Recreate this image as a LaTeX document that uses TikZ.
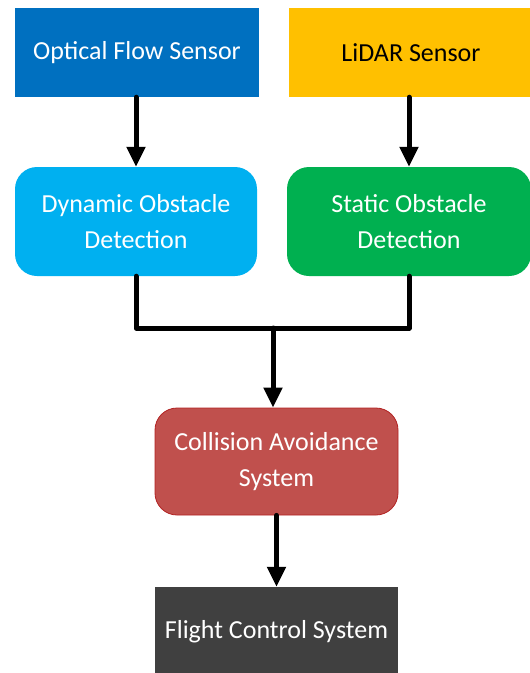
\documentclass[tikz,border=0pt]{standalone}
\usepackage{fontspec}
\setmainfont{Carlito}
\usetikzlibrary{arrows.meta}
\definecolor{optblue}{HTML}{0070C0}
\definecolor{lidaryellow}{HTML}{FFC000}
\definecolor{dynblue}{HTML}{00B0F0}
\definecolor{statgreen}{HTML}{00B050}
\definecolor{collred}{HTML}{C0504D}
\definecolor{collborder}{HTML}{B22222}
\definecolor{flightgrey}{HTML}{404040}
\tikzset{
  box/.style={minimum width=244pt, inner sep=0pt, align=center,
    font=\fontsize{26}{36}\selectfont, text=white},
  roundbox/.style={box, rounded corners=22pt},
  flow/.style={line width=5pt, line cap=round, line join=round,
    -{Triangle[width=18pt,length=20pt]}},
  mergeline/.style={line width=5pt, line cap=round, line join=round}
}
\begin{document}
\begin{tikzpicture}[x=1pt,y=-1pt]
\useasboundingbox (0,0) rectangle (530,673);
% sensors
\node[box, fill=optblue, minimum height=89pt] (opt) at (137,52.5) {Optical Flow Sensor};
\node[box, fill=lidaryellow, minimum height=89pt, text=black] (lidar) at (411,52.5) {LiDAR Sensor};
% detection stages
\node[roundbox, fill=dynblue, minimum width=242pt, minimum height=109pt] (dyn) at (136,221.5) {Dynamic Obstacle\\Detection};
\node[roundbox, fill=statgreen, minimum width=244pt, minimum height=109pt] (stat) at (409,221.5) {Static Obstacle\\Detection};
% avoidance and control
\node[roundbox, fill=collred, draw=collborder, line width=0.8pt, minimum width=243pt, minimum height=107pt] (coll) at (276.5,461.5) {Collision Avoidance\\System};
\node[box, fill=flightgrey, minimum width=243pt, minimum height=90pt] (flight) at (276.5,632) {Flight Control System};
\coordinate (merge) at (273,328);
% connectors
\draw[flow] (opt.south -| dyn.south) -- (dyn.north);
\draw[flow] (lidar.south -| stat.south) -- (stat.north);
\draw[mergeline] (dyn.south) |- (merge) -| (stat.south);
\draw[flow] (merge) -- (merge |- coll.north);
\draw[flow] (coll.south) -- (flight.north);
\end{tikzpicture}
\end{document}
